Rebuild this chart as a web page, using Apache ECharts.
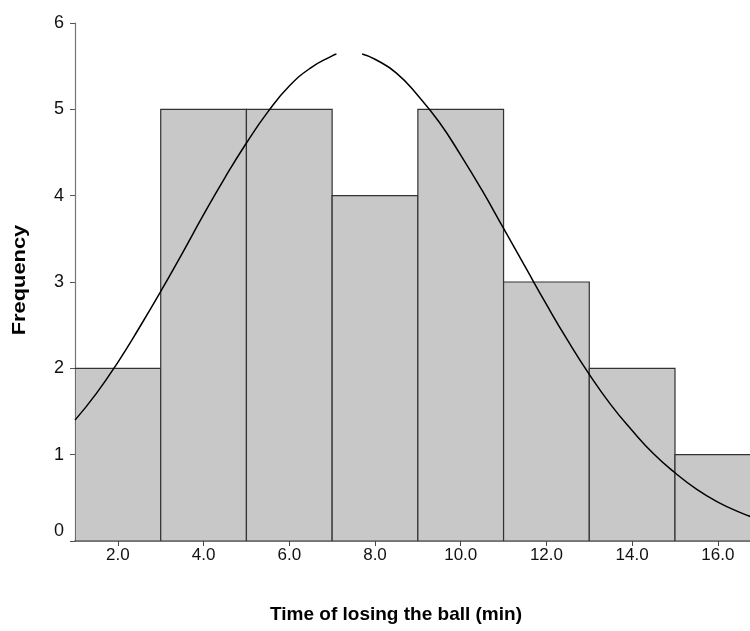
<!DOCTYPE html>
<html>
<head>
<meta charset="utf-8">
<script src="https://cdn.jsdelivr.net/npm/echarts@6/dist/echarts.min.js"></script>
<style>
  html, body { margin: 0; padding: 0; background: #fff; }
  #chart { width: 750px; height: 631px; }
</style>
</head>
<body>
<div id="chart"></div>
<script>
// 直方图分组 (min)
const binStart = [1, 3, 5, 7, 9, 11, 13, 15]
const binEnd = [3, 5, 7, 9, 11, 13, 15, 17]
const freq = [2, 5, 5, 4, 5, 3, 2, 1]

// 坐标轴刻度
const xTicks = [2, 4, 6, 8, 10, 12, 14, 16]
const yTicks = [0, 1, 2, 3, 4, 5, 6]

// 正态曲线 (读图估计, 顶部有缺口)
const curveX = [1.0, 1.5, 2.0, 2.5, 3.0, 3.5, 4.0, 4.5, 5.0, 5.5, 6.0, 6.5, 7.0, 7.1, 7.4, 7.7, 8.0, 8.5, 9.0, 9.5, 10.0, 10.5, 11.0, 11.5, 12.0, 12.5, 13.0, 13.5, 14.0, 14.5, 15.0, 15.5, 16.0, 16.5, 17.0]
const curveY = [1.40, 1.71, 2.07, 2.47, 2.89, 3.33, 3.78, 4.21, 4.61, 4.97, 5.27, 5.48, 5.62, 5.64, null, 5.64, 5.58, 5.42, 5.16, 4.85, 4.47, 4.06, 3.62, 3.18, 2.74, 2.32, 1.93, 1.58, 1.28, 1.01, 0.79, 0.60, 0.45, 0.335, 0.24]

const FONT = 'Liberation Sans, Arial, sans-serif'

let chart = echarts.init(document.getElementById('chart'))

let barData = []
for (let i = 0; i < freq.length; i++) {
  barData.push([binStart[i], binEnd[i], freq[i]])
}
let lineData = []
for (let i = 0; i < curveX.length; i++) {
  lineData.push([curveX[i], curveY[i]])
}

let option = {
  animation: false,
  grid: {
    left: 75,
    right: 0,
    top: 23,
    bottom: 90
  },
  xAxis: {
    type: 'value',
    min: 1,
    max: 16.75,
    axisLine: { lineStyle: { color: '#444', width: 1.5 } },
    axisTick: {
      customValues: xTicks,
      length: 5,
      lineStyle: { color: '#444' }
    },
    axisLabel: {
      customValues: xTicks,
      formatter: (v) => v.toFixed(1),
      fontFamily: FONT,
      fontSize: 17,
      color: '#111',
      margin: 6
    },
    splitLine: { show: false }
  },
  yAxis: {
    type: 'value',
    min: yTicks[0],
    max: yTicks[yTicks.length - 1],
    interval: 1,
    axisLine: { show: true, lineStyle: { color: '#777', width: 1.2 } },
    axisTick: { show: true, length: 5, lineStyle: { color: '#555' } },
    axisLabel: {
      fontFamily: FONT,
      fontSize: 18,
      color: '#111',
      margin: 11,
      // 0 标签略微上移
      formatter: (v) => v === 0 ? '{z|0}' : String(v),
      rich: {
        z: { fontFamily: FONT, fontSize: 18, color: '#111', padding: [0, 0, 20, 0] }
      }
    },
    splitLine: { show: false }
  },
  graphic: [
    {
      type: 'text',
      x: 20,
      y: 280,
      rotation: Math.PI / 2,
      scaleX: 1.15,
      style: {
        text: 'Frequency',
        font: 'bold 19px ' + FONT,
        fill: '#000',
        align: 'center',
        verticalAlign: 'middle'
      }
    },
    {
      type: 'text',
      x: 396,
      y: 615,
      style: {
        text: 'Time of losing the ball (min)',
        font: 'bold 19px ' + FONT,
        fill: '#000',
        align: 'center',
        verticalAlign: 'middle'
      }
    }
  ],
  series: [
    {
      type: 'custom',
      data: barData,
      clip: true,
      encode: { x: [0, 1], y: 2 },
      renderItem: (params, api) => {
        let p0 = api.coord([api.value(0), api.value(2)])
        let p1 = api.coord([api.value(1), 0])
        return {
          type: 'rect',
          shape: { x: p0[0], y: p0[1], width: p1[0] - p0[0], height: p1[1] - p0[1] },
          style: { fill: '#c8c8c8', stroke: '#333', lineWidth: 1.2 }
        }
      },
      z: 1
    },
    {
      type: 'line',
      data: lineData,
      smooth: true,
      showSymbol: false,
      connectNulls: false,
      clip: true,
      lineStyle: { color: '#000', width: 1.5 },
      z: 3
    }
  ]
}
chart.setOption(option)
</script>
</body>
</html>
